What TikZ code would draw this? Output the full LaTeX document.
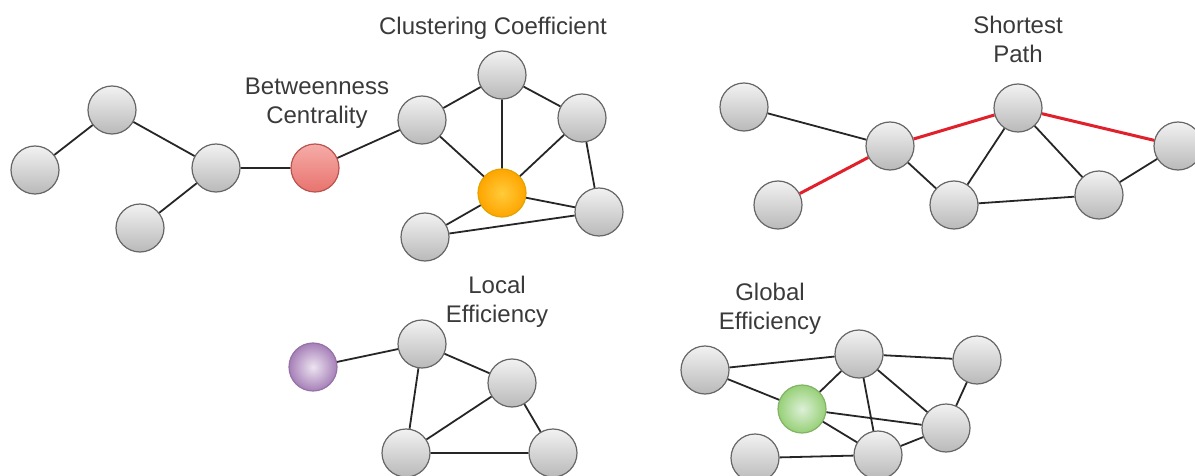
\documentclass[tikz,border=0pt]{standalone}
\usepackage{fontspec}
\setmainfont{Liberation Sans}
\usepackage{xcolor}
\usepackage{tikz}
\usetikzlibrary{shapes.geometric, positioning}

\definecolor{nodetop}{HTML}{F2F2F2}
\definecolor{nodebot}{HTML}{B9B9B9}
\definecolor{nodeline}{HTML}{666666}
\definecolor{bctop}{HTML}{F6ACA8}
\definecolor{bcbot}{HTML}{E8736E}
\definecolor{bcline}{HTML}{B85450}
\definecolor{ccin}{HTML}{FFCB3A}
\definecolor{ccout}{HTML}{FFA500}
\definecolor{ccline}{HTML}{E3A300}
\definecolor{lein}{HTML}{EDE4F0}
\definecolor{leout}{HTML}{A680B8}
\definecolor{leline}{HTML}{9673A6}
\definecolor{gein}{HTML}{DDF0D8}
\definecolor{geout}{HTML}{97D077}
\definecolor{geline}{HTML}{82B366}
\definecolor{pathred}{HTML}{E0202A}
\definecolor{textcol}{HTML}{3A3A3A}

\begin{document}
\begin{tikzpicture}[
  x=0.5pt, y=-0.5pt,
  vertex/.style={circle, draw=nodeline, line width=0.6pt,
                 top color=nodetop, bottom color=nodebot,
                 minimum size=24pt, inner sep=0pt},
  bcnode/.style={vertex, draw=bcline, top color=bctop, bottom color=bcbot},
  ccnode/.style={vertex, draw=ccline, inner color=ccin, outer color=ccout},
  lenode/.style={vertex, draw=leline, inner color=lein, outer color=leout},
  genode/.style={vertex, draw=geline, inner color=gein, outer color=geout},
  link/.style={draw=black!85, line width=0.9pt},
  hot/.style={draw=pathred, line width=1.5pt},
  lbl/.style={anchor=north, align=center, inner sep=0pt, text=textcol,
              font=\fontsize{12}{14.5}\selectfont}
]
\useasboundingbox (0,0) rectangle (1195,476);

% betweenness + clustering
\node[vertex] (a1) at (35,170) {};
\node[vertex] (a2) at (112,110) {};
\node[vertex] (a3) at (216,168) {};
\node[vertex] (a4) at (140,228) {};
\node[bcnode] (bc) at (315,168) {};
\node[vertex] (c1) at (422,120) {};
\node[vertex] (c2) at (502,75) {};
\node[vertex] (c3) at (582,118) {};
\node[ccnode] (cc) at (502,193) {};
\node[vertex] (c4) at (599,212) {};
\node[vertex] (c5) at (425,237) {};

\node[lbl] (bclbl) at (317,78) {Betweenness\\Centrality};
\node[lbl] (cclbl) at (493,17) {Clustering Coefficient};

\draw[link] (a1) -- (a2) (a2) -- (a3) (a3) -- (a4) (a3) -- (bc)
  (bc) -- (c1) (c1) -- (c2) (c1) -- (cc) (c2) -- (cc) (c2) -- (c3)
  (c3) -- (cc) (c3) -- (c4) (cc) -- (c4) (cc) -- (c5) (c5) -- (c4);

% shortest path
\node[vertex] (s1) at (744,107) {};
\node[vertex] (s2) at (890,146) {};
\node[vertex] (s3) at (778,205) {};
\node[vertex] (s4) at (1018,108) {};
\node[vertex] (s5) at (954,205) {};
\node[vertex] (s6) at (1099,195) {};
\node[vertex] (s7) at (1178,146) {};

\node[lbl] (splbl) at (1018,16) {Shortest\\Path};

\draw[link] (s1) -- (s2) (s2) -- (s5) (s5) -- (s4) (s4) -- (s6)
  (s5) -- (s6) (s6) -- (s7);
\draw[hot] (s3) -- (s2) (s2) -- (s4) (s4) -- (s7);

% local efficiency
\node[lenode] (le) at (313,367) {};
\node[vertex] (l1) at (422,344) {};
\node[vertex] (l2) at (512,383) {};
\node[vertex] (l3) at (406,453) {};
\node[vertex] (l4) at (553,453) {};

\node[lbl] (lelbl) at (497,276) {Local\\Efficiency};

\draw[link] (le) -- (l1) (l1) -- (l2) (l1) -- (l3) (l2) -- (l3)
  (l2) -- (l4) (l3) -- (l4);

% global efficiency
\node[vertex] (g1) at (705,370) {};
\node[vertex] (g2) at (859,354) {};
\node[vertex] (g3) at (977,360) {};
\node[genode] (ge) at (802,409) {};
\node[vertex] (g4) at (946,428) {};
\node[vertex] (g5) at (755,458) {};
\node[vertex] (g6) at (878,455) {};

\node[lbl] (gelbl) at (770,283) {Global\\Efficiency};

\draw[link] (g1) -- (g2) (g1) -- (ge) (ge) -- (g2) (g2) -- (g3)
  (g2) -- (g6) (g2) -- (g4) (ge) -- (g4) (ge) -- (g6) (g3) -- (g4)
  (g5) -- (g6) (g6) -- (g4);
\end{tikzpicture}
\end{document}
